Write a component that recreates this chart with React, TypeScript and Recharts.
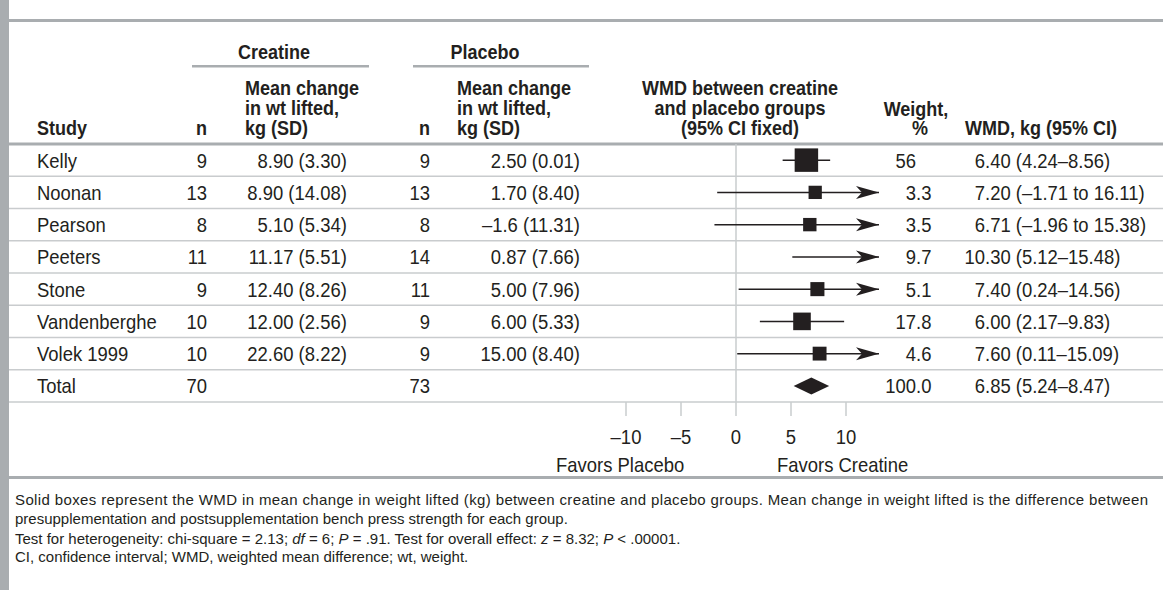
import React from "react";
import { ScatterChart, Scatter, XAxis, YAxis, ErrorBar, ReferenceLine } from "recharts";

// table columns, one entry per row (last row = pooled total)
const studies = ["Kelly", "Noonan", "Pearson", "Peeters", "Stone", "Vandenberghe", "Volek 1999", "Total"];
const creatineN = ["9", "13", "8", "11", "9", "10", "10", "70"];
const creatineMean = ["8.90 (3.30)", "8.90 (14.08)", "5.10 (5.34)", "11.17 (5.51)", "12.40 (8.26)", "12.00 (2.56)", "22.60 (8.22)", ""];
const placeboN = ["9", "13", "8", "14", "11", "9", "9", "73"];
const placeboMean = ["2.50 (0.01)", "1.70 (8.40)", "\u20131.6 (11.31)", "0.87 (7.66)", "5.00 (7.96)", "6.00 (5.33)", "15.00 (8.40)", ""];
const weightLabels = ["56", "3.3", "3.5", "9.7", "5.1", "17.8", "4.6", "100.0"];
const wmdLabels = [
  "6.40 (4.24\u20138.56)",
  "7.20 (\u20131.71 to 16.11)",
  "6.71 (\u20131.96 to 15.38)",
  "10.30 (5.12\u201315.48)",
  "7.40 (0.24\u201314.56)",
  "6.00 (2.17\u20139.83)",
  "7.60 (0.11\u201315.09)",
  "6.85 (5.24\u20138.47)",
];

// forest plot values
const wmd = [6.4, 7.2, 6.71, 10.3, 7.4, 6.0, 7.6, 6.85];
const ciLow = [4.24, -1.71, -1.96, 5.12, 0.24, 2.17, 0.11, 5.24];
const ciHigh = [8.56, 16.11, 15.38, 15.48, 14.56, 9.83, 15.09, 8.47];
const weights = [56, 3.3, 3.5, 9.7, 5.1, 17.8, 4.6, 100];
// the source figure shows no box for Peeters
const boxShown = [true, true, true, false, true, true, true];
const xTicks = [-10, -5, 0, 5, 10];

const W = 1163;
const H = 590;
const FONT = "'Liberation Sans', Arial, sans-serif";
const INK = "#231f20";
const RULE = "#c9ccce";
const RULE_DARK = "#a9adb0";

// plot area: rows between y=144 and y=402, x axis zero at 736
const PLOT_LEFT = 9;
const PLOT_TOP = 144;
const PLOT_BOTTOM = 402;
const ZERO_X = 736;
const PX_PER_UNIT = 11;
const CLIP = 13;
const AXIS_H = 40;
const xDomain = [(PLOT_LEFT - ZERO_X) / PX_PER_UNIT, (W - ZERO_X) / PX_PER_UNIT];

const COL = {
  study: 37,
  cN: 207,
  cMean: 315,
  pN: 430,
  pMean: 580,
  weight: 916,
  wmd: 985,
};

// condensed look: regular sans squeezed horizontally
const FS = 20.5;
const HS = 20;
const SX = 0.9;

const splitAt = (s: string, idx: number) => (idx < 0 ? [s, ""] : [s.slice(0, idx), s.slice(idx)]);

function Txt({ x, y, anchor = "start", children, bold = false, size = FS }: any) {
  return (
    <text
      transform={`translate(${x} ${y}) scale(${SX} 1)`}
      textAnchor={anchor}
      fontFamily={FONT}
      fontSize={size}
      fontWeight={bold ? 700 : 400}
      fill={INK}
    >
      {children}
    </text>
  );
}

function Aligned({ x, y, parts }: any) {
  return (
    <g>
      <Txt x={x} y={y} anchor="end">{parts[0]}</Txt>
      <Txt x={x} y={y}>{parts[1]}</Txt>
    </g>
  );
}

function RowText(props: any) {
  const { cy, payload } = props;
  const i = payload.i;
  const b = cy + 7.5;
  return (
    <g>
      <Txt x={COL.study} y={b}>{studies[i]}</Txt>
      <Txt x={COL.cN} y={b} anchor="end">{creatineN[i]}</Txt>
      {creatineMean[i] && <Aligned x={COL.cMean} y={b} parts={splitAt(creatineMean[i], creatineMean[i].lastIndexOf("."))} />}
      <Txt x={COL.pN} y={b} anchor="end">{placeboN[i]}</Txt>
      <Txt x={COL.pMean} y={b} anchor="end">{placeboMean[i]}</Txt>
      <Aligned x={COL.weight} y={b} parts={splitAt(weightLabels[i], weightLabels[i].indexOf("."))} />
      <Aligned x={COL.wmd} y={b} parts={splitAt(wmdLabels[i], wmdLabels[i].indexOf("."))} />
    </g>
  );
}

function Box(props: any) {
  const { cx, cy, payload } = props;
  if (!payload.shown) return <g />;
  const s = 10 + 1.8 * Math.sqrt(payload.w);
  return <rect x={cx - s / 2} y={cy - s / 2} width={s} height={s} fill={INK} />;
}

function Arrow(props: any) {
  const { cx, cy } = props;
  return (
    <polygon
      points={`${cx},${cy} ${cx - 23},${cy - 6.5} ${cx - 17},${cy} ${cx - 23},${cy + 6.5}`}
      fill={INK}
    />
  );
}

function Diamond(props: any) {
  const { cx, cy, payload } = props;
  const l = cx + (payload.lo - payload.x) * PX_PER_UNIT;
  const r = cx + (payload.hi - payload.x) * PX_PER_UNIT;
  return <polygon points={`${l},${cy} ${cx},${cy - 8.5} ${r},${cy} ${cx},${cy + 8.5}`} fill={INK} />;
}

function AxisTick(props: any) {
  const { x, y, payload } = props;
  const v = payload.value;
  const label = v < 0 ? `\u2013${Math.abs(v)}` : `${v}`;
  return (
    <Txt x={x} y={y + 26} anchor="middle">{label}</Txt>
  );
}

const textRows = studies.map((_, i) => ({ x: 0, y: i, i }));
const studyRows = wmd.slice(0, 7).map((v, i) => ({
  x: v,
  y: i,
  w: weights[i],
  shown: boxShown[i],
  err: [v - Math.max(ciLow[i], -CLIP), Math.min(ciHigh[i], CLIP) - v],
}));
const arrowRows = ciHigh
  .map((h, i) => ({ x: CLIP, y: i, clipped: h > CLIP && i < 7 }))
  .filter((d) => d.clipped);
const totalRow = [{ x: wmd[7], y: 7, lo: ciLow[7], hi: ciHigh[7] }];
const rowLines = studies.map((_, i) => i + 0.5);

function StaticLayer() {
  const hb = [95, 115, 135];
  return (
    <svg width={W} height={H} style={{ position: "absolute", left: 0, top: 0, pointerEvents: "none" }}>
      <rect x={0} y={0} width={9} height={H} fill={RULE_DARK} />
      <rect x={9} y={19} width={W - 9} height={3} fill={RULE_DARK} />
      <rect x={9} y={476} width={W - 9} height={3} fill={RULE_DARK} />

      <Txt x={274} y={59} anchor="middle" bold size={HS}>Creatine</Txt>
      <rect x={192} y={65} width={177} height={2.5} fill={RULE_DARK} />
      <Txt x={485} y={59} anchor="middle" bold size={HS}>Placebo</Txt>
      <rect x={413} y={65} width={176} height={2.5} fill={RULE_DARK} />

      <Txt x={COL.study} y={hb[2]} bold size={HS}>Study</Txt>
      <Txt x={COL.cN} y={hb[2]} anchor="end" bold size={HS}>n</Txt>
      <Txt x={245} y={hb[0]} bold size={HS}>Mean change</Txt>
      <Txt x={245} y={hb[1]} bold size={HS}>in wt lifted,</Txt>
      <Txt x={245} y={hb[2]} bold size={HS}>kg (SD)</Txt>
      <Txt x={COL.pN} y={hb[2]} anchor="end" bold size={HS}>n</Txt>
      <Txt x={457} y={hb[0]} bold size={HS}>Mean change</Txt>
      <Txt x={457} y={hb[1]} bold size={HS}>in wt lifted,</Txt>
      <Txt x={457} y={hb[2]} bold size={HS}>kg (SD)</Txt>
      <Txt x={740} y={hb[0]} anchor="middle" bold size={HS}>WMD between creatine</Txt>
      <Txt x={740} y={hb[1]} anchor="middle" bold size={HS}>and placebo groups</Txt>
      <Txt x={740} y={hb[2]} anchor="middle" bold size={HS}>(95% CI fixed)</Txt>
      <Txt x={916} y={116} anchor="middle" bold size={HS}>Weight,</Txt>
      <Txt x={920} y={hb[2]} anchor="middle" bold size={HS}>%</Txt>
      <Txt x={965} y={hb[2]} bold size={HS}>WMD, kg (95% CI)</Txt>

      <Txt x={556} y={472}>Favors Placebo</Txt>
      <Txt x={777} y={472}>Favors Creatine</Txt>

      <g fontFamily={FONT} fontSize={15} fill={INK}>
        <text x={15} y={505} textLength={1133} lengthAdjust="spacing">
          Solid boxes represent the WMD in mean change in weight lifted (kg) between creatine and placebo groups. Mean change in weight lifted is the difference between
        </text>
        <text x={15} y={524}>presupplementation and postsupplementation bench press strength for each group.</text>
        <text x={15} y={544}>
          Test for heterogeneity: chi-square = 2.13; <tspan fontStyle="italic">df</tspan> = 6; <tspan fontStyle="italic">P</tspan> = .91. Test for overall effect: <tspan fontStyle="italic">z</tspan> = 8.32; <tspan fontStyle="italic">P</tspan> &lt; .00001.
        </text>
        <text x={15} y={562}>CI, confidence interval; WMD, weighted mean difference; wt, weight.</text>
      </g>
    </svg>
  );
}

export default function App() {
  return (
    <div style={{ position: "absolute", left: 0, top: 0, width: W, height: H, background: "#fff", overflow: "hidden" }}>
      <ScatterChart
        width={W}
        height={H}
        margin={{ top: PLOT_TOP, left: PLOT_LEFT, right: 0, bottom: H - PLOT_BOTTOM - AXIS_H }}
      >
        <XAxis
          type="number"
          dataKey="x"
          domain={xDomain}
          allowDataOverflow
          ticks={xTicks}
          interval={0}
          height={AXIS_H}
          axisLine={false}
          tickSize={14}
          tickLine={{ stroke: RULE, strokeWidth: 1.5 }}
          tick={<AxisTick />}
        />
        <YAxis type="number" dataKey="y" domain={[-0.5, 7.5]} reversed hide width={0} allowDataOverflow />
        {rowLines.map((y) => (
          <ReferenceLine key={y} y={y} stroke={RULE} strokeWidth={1.5} />
        ))}
        <ReferenceLine y={-0.5} stroke={RULE_DARK} strokeWidth={3} />
        <ReferenceLine x={0} stroke={RULE} strokeWidth={1.5} />
        <Scatter data={textRows} shape={<RowText />} isAnimationActive={false} />
        <Scatter data={studyRows} shape={<Box />} isAnimationActive={false}>
          <ErrorBar dataKey="err" direction="x" width={0} stroke={INK} strokeWidth={1.5} />
        </Scatter>
        <Scatter data={arrowRows} shape={<Arrow />} isAnimationActive={false} />
        <Scatter data={totalRow} shape={<Diamond />} isAnimationActive={false} />
      </ScatterChart>
      <StaticLayer />
    </div>
  );
}
